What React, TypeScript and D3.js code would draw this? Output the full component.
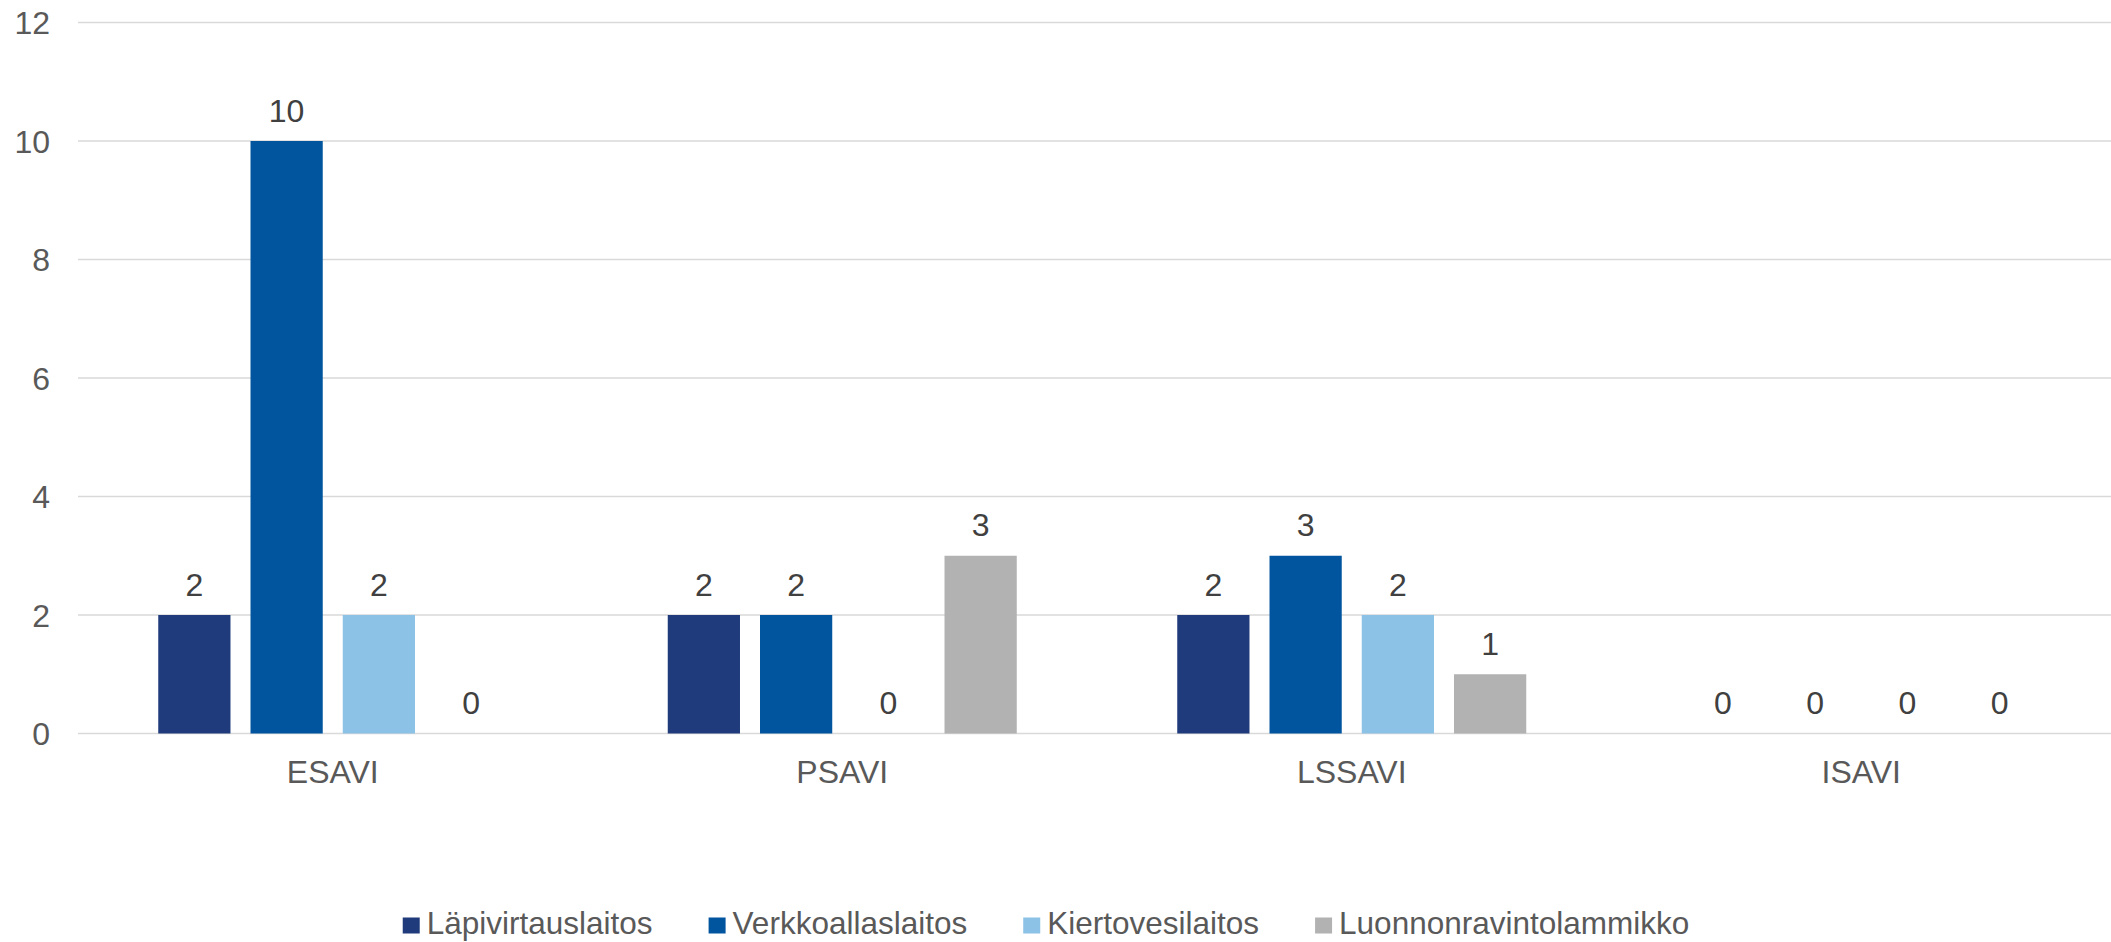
import React, { useEffect, useRef } from 'react';
import * as d3 from 'd3';

const categories = ['ESAVI', 'PSAVI', 'LSSAVI', 'ISAVI'];
const seriesNames = ['Läpivirtauslaitos', 'Verkkoallaslaitos', 'Kiertovesilaitos', 'Luonnonravintolammikko'];
const lapivirtaus = [2, 2, 2, 0];
const verkkoallas = [10, 2, 3, 0];
const kiertovesi = [2, 0, 2, 0];
const luonnonravinto = [0, 3, 1, 0];
const yTicks = [0, 2, 4, 6, 8, 10, 12];
const colors = ['#203B7B', '#01559E', '#8CC2E5', '#B2B2B2'];

const W = 2111;
const H = 942;
const FONT = '"Liberation Sans", Arial, sans-serif';

export default function App() {
  const ref = useRef<SVGSVGElement | null>(null);

  useEffect(() => {
    const svg = d3.select(ref.current);
    svg.selectAll('*').remove();

    const values = [lapivirtaus, verkkoallas, kiertovesi, luonnonravinto];
    const rows = categories.map((c, i) => ({
      cat: c,
      vals: seriesNames.map((s, j) => ({ name: s, idx: j, v: values[j][i] })),
    }));

    const left = 78, right = 2116, top = 22.5, bottom = 733.5;

    const x0 = d3.scaleBand().domain(categories).range([left, right]).padding(0);
    const groupW = x0.bandwidth() * 0.685;
    const x1 = d3.scaleBand()
      .domain(seriesNames)
      .range([(x0.bandwidth() - groupW) / 2, (x0.bandwidth() + groupW) / 2])
      .paddingInner(0.217)
      .paddingOuter(0);
    const y = d3.scaleLinear().domain([0, 12]).range([bottom, top]);

    // gridlines
    svg.append('g')
      .selectAll('line')
      .data(yTicks)
      .join('line')
      .attr('x1', left)
      .attr('x2', right)
      .attr('y1', d => y(d))
      .attr('y2', d => y(d))
      .attr('stroke', '#D9D9D9')
      .attr('stroke-width', 1.5);

    // y tick labels
    svg.append('g')
      .selectAll('text')
      .data(yTicks)
      .join('text')
      .attr('x', 50)
      .attr('y', d => y(d) + 11.5)
      .attr('text-anchor', 'end')
      .attr('font-family', FONT)
      .attr('font-size', 32)
      .attr('fill', '#595959')
      .text(d => d);

    const groups = svg.append('g')
      .selectAll('g')
      .data(rows)
      .join('g')
      .attr('transform', d => `translate(${x0(d.cat)},0)`);

    groups.selectAll('rect')
      .data(d => d.vals)
      .join('rect')
      .attr('x', d => x1(d.name)!)
      .attr('width', x1.bandwidth())
      .attr('y', d => y(d.v))
      .attr('height', d => y(0) - y(d.v))
      .attr('fill', d => colors[d.idx]);

    groups.selectAll('text')
      .data(d => d.vals)
      .join('text')
      .attr('x', d => x1(d.name)! + x1.bandwidth() / 2)
      .attr('y', d => y(d.v) - 19.5)
      .attr('text-anchor', 'middle')
      .attr('font-family', FONT)
      .attr('font-size', 32)
      .attr('fill', '#404040')
      .text(d => d.v);

    // category labels
    svg.append('g')
      .selectAll('text')
      .data(categories)
      .join('text')
      .attr('x', d => x0(d)! + x0.bandwidth() / 2)
      .attr('y', 783)
      .attr('text-anchor', 'middle')
      .attr('font-family', FONT)
      .attr('font-size', 32)
      .attr('fill', '#595959')
      .text(d => d);

    // legend
    const legend = svg.append('g');
    const items = legend.selectAll('g')
      .data(seriesNames)
      .join('g');
    items.append('rect')
      .attr('width', 17)
      .attr('height', 16)
      .attr('y', 917.5)
      .attr('fill', (d, i) => colors[i]);
    items.append('text')
      .attr('x', 24)
      .attr('y', 934)
      .attr('font-family', FONT)
      .attr('font-size', 31.5)
      .attr('fill', '#595959')
      .text(d => d);

    const gap = 56;
    const widths: number[] = [];
    items.each(function () {
      const t = d3.select(this).select('text').node() as SVGTextElement;
      widths.push(24 + t.getComputedTextLength());
    });
    const total = d3.sum(widths) + gap * (widths.length - 1);
    let cx = 1046 - total / 2;
    items.attr('transform', (d, i) => {
      const tx = cx;
      cx += widths[i] + gap;
      return `translate(${tx},0)`;
    });
  }, []);

  return (
    <svg
      ref={ref}
      width={W}
      height={H}
      style={{ position: 'absolute', left: 0, top: 0, background: '#fff' }}
    />
  );
}
